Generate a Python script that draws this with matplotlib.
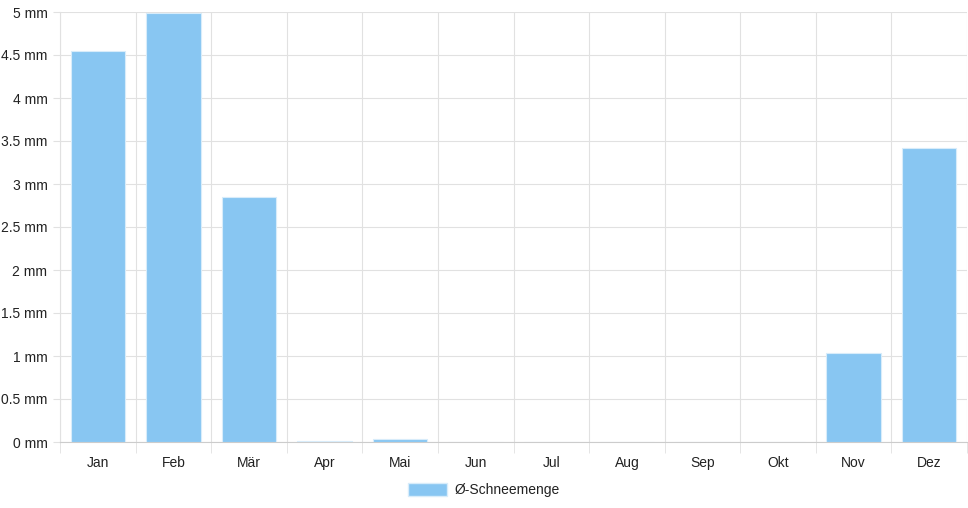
import matplotlib.pyplot as plt
from matplotlib.patches import Patch

plt.rcParams['font.family'] = ['Liberation Sans', 'DejaVu Sans']

months = ["Jan", "Feb", "Mär", "Apr", "Mai", "Jun", "Jul", "Aug", "Sep", "Okt", "Nov", "Dez"]
snow_mm = [4.55, 4.99, 2.85, 0.01, 0.04, 0, 0, 0, 0, 0, 1.03, 3.42]
y_ticks = [0, 0.5, 1, 1.5, 2, 2.5, 3, 3.5, 4, 4.5, 5]

bar_color = '#88C6F2'
grid_color = '#e1e1e1'

fig = plt.figure(figsize=(9.68, 5.08), dpi=100)
ax = fig.add_axes([60 / 968, 1 - 442 / 508, 907 / 968, 430 / 508])

x = range(len(months))
ax.bar(x, snow_mm, width=0.72, color=bar_color, edgecolor='#d8ecfa', linewidth=0.8, zorder=3)

ax.set_xlim(-0.5, len(months) - 0.5)
ax.set_ylim(0, 5)
ax.set_yticks(y_ticks)
ax.set_yticklabels([f"{v:g} mm" for v in y_ticks])
ax.set_xticks(list(x))
ax.set_xticklabels(months)

# grid: horizontal at y ticks, vertical at category boundaries
for v in y_ticks:
    ax.axhline(v, color=grid_color, linewidth=0.8, zorder=1)
for i in range(len(months) + 1):
    ax.axvline(i - 0.5, color=grid_color, linewidth=0.8, zorder=1)

ax.tick_params(axis='y', length=5, color=grid_color, labelsize=10, labelcolor='#222222', pad=4)
ax.tick_params(axis='x', length=0, labelsize=10, labelcolor='#222222', pad=10)
# small tick marks under the axis at category boundaries
ax.set_xticks([i - 0.5 for i in range(len(months) + 1)], minor=True)
ax.tick_params(axis='x', which='minor', length=8, color=grid_color)

for side in ['top', 'right', 'left']:
    ax.spines[side].set_visible(False)
ax.spines['bottom'].set_color('#cccccc')
ax.spines['bottom'].set_linewidth(0.8)
ax.spines['left'].set_visible(True)
ax.spines['left'].set_color(grid_color)

handle = Patch(facecolor=bar_color, edgecolor='#d8ecfa')
fig.legend([handle], ["Ø-Schneemenge"], loc='center', bbox_to_anchor=(484 / 968, 1 - 490 / 508),
           frameon=False, fontsize=10, handlelength=2.8, handleheight=1.1, handletextpad=0.5,
           labelcolor='#222222')

fig.savefig("out.png", dpi=100)
